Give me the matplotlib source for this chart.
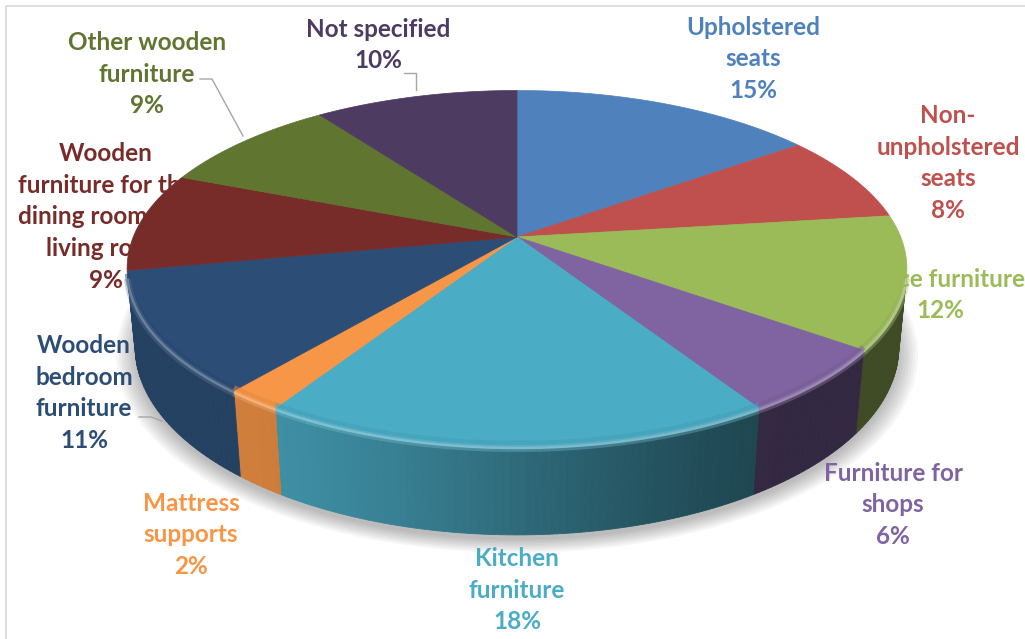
import numpy as np
import matplotlib.pyplot as plt
from matplotlib.patches import Polygon
from matplotlib.colors import to_rgb

# furniture production by type, shares in percent (clockwise from 12 o'clock)
categories = [
    "Upholstered\nseats",
    "Non-\nunpholstered\nseats",
    "Office furniture",
    "Furniture for\nshops",
    "Kitchen\nfurniture",
    "Mattress\nsupports",
    "Wooden\nbedroom\nfurniture",
    "Wooden\nfurniture for the\ndining room and\nliving room",
    "Other wooden\nfurniture",
    "Not specified",
]
shares = [15, 8, 12, 6, 18, 2, 11, 9, 9, 10]
colors = ["#4F81BD", "#C0504D", "#9BBB59", "#8064A2", "#4BACC6",
          "#F79646", "#2C4D75", "#772C2A", "#5F7530", "#4D3B62"]

# label block centres in pixel space
label_pos = [(753, 59), (948, 163), (940, 295), (893, 505), (517, 590),
             (191, 535), (84, 393), (106, 217), (147, 74), (378, 45)]

W, H = 1025, 639
CX, CY = 517, 237
ELEV = np.radians(26.7)
DIST = 5.05
FOC = 1938.0
THICK = 0.23


def project(theta, z=0.0):
    # perspective view of a unit-radius disc, theta clockwise from the back
    x = np.sin(theta)
    y = np.cos(theta)
    depth = DIST + y * np.cos(ELEV) - z * np.sin(ELEV)
    u = FOC * x / depth
    v = FOC * (y * np.sin(ELEV) + z * np.cos(ELEV)) / depth
    return CX + u, CY - v


def shade(c, k):
    r, g, b = to_rgb(c)
    return (r * k, g * k, b * k)


def lighten(c, k):
    r, g, b = to_rgb(c)
    return (r + (1 - r) * k, g + (1 - g) * k, b + (1 - b) * k)


def side_factor(theta):
    s = np.clip((np.degrees(theta) - 140) / 80.0, 0, 1)
    s = s * s * (3 - 2 * s)
    return 0.40 + 0.44 * s


fig = plt.figure(figsize=(W / 100, H / 100), dpi=100)
ax = fig.add_axes([0, 0, 1, 1])
ax.set_xlim(0, W)
ax.set_ylim(H, 0)
ax.axis("off")

# chart area border
ax.plot([6, 6, W + 5], [H + 5, 6, 6], color="#d9d9d9", lw=1.2, zorder=0)

font = dict(family=["Lato", "DejaVu Sans"], fontweight="bold", fontsize=17.5)

# the dining room label sits underneath the pie
dining = 7

bounds = np.cumsum([0] + shares) / 100.0 * 2 * np.pi
edge = np.degrees(np.arccos(-1.0 / (DIST * np.cos(ELEV))))
vis_lo, vis_hi = np.radians(edge), np.radians(360 - edge)

# soft shadow under the pie
ring = np.linspace(0, 2 * np.pi, 361)
for grow in np.linspace(1.0, 1.05, 8):
    bx, by = project(ring, -THICK)
    bx = CX + (bx - CX) * grow
    by = CY + 40 + (by - CY - 40) * grow + 5
    ax.fill(bx, by, color="#000000", alpha=0.035, lw=0, zorder=1)

# side walls
for i, c in enumerate(colors):
    a0, a1 = max(bounds[i], vis_lo), min(bounds[i + 1], vis_hi)
    if a1 <= a0:
        continue
    ts = np.linspace(a0, a1, max(2, int(np.degrees(a1 - a0)) + 1))
    for t0, t1 in zip(ts[:-1], ts[1:]):
        tx0, ty0 = project(t0)
        tx1, ty1 = project(t1)
        bx0, by0 = project(t0, -THICK)
        bx1, by1 = project(t1, -THICK)
        col = shade(c, side_factor((t0 + t1) / 2))
        ax.add_patch(Polygon([(tx0, ty0), (tx1, ty1), (bx1, by1), (bx0, by0)],
                             closed=True, fc=col, ec=col, lw=0.6, zorder=3))

# top faces
for i, c in enumerate(colors):
    ts = np.linspace(bounds[i], bounds[i + 1], max(3, shares[i] * 4))
    px, py = project(ts)
    pts = [(CX, CY)] + list(zip(px, py))
    ax.add_patch(Polygon(pts, closed=True, fc=c, ec=c, lw=0.5, zorder=4))
    # bevel highlight along the front rim
    a0, a1 = max(bounds[i], vis_lo), min(bounds[i + 1], vis_hi)
    if a1 > a0:
        ts = np.linspace(a0, a1, 60)
        rx, ry = project(ts)
        ax.plot(rx, ry - 3, color=shade(c, 0.92), lw=4, alpha=0.5,
                solid_capstyle="butt", zorder=5)
        ax.plot(rx, ry + 2, color=lighten(c, 0.25), lw=5, alpha=0.35,
                solid_capstyle="butt", zorder=5)
        ax.plot(rx, ry + 1.5, color=lighten(c, 0.35), lw=1.8, alpha=0.8,
                solid_capstyle="butt", zorder=5)

# data labels
for i, (name, share) in enumerate(zip(categories, shares)):
    x, y = label_pos[i]
    ax.text(x, y, f"{name}\n{share}%", color=colors[i], ha="center", va="center",
            linespacing=1.45, zorder=2 if i == dining else 6, **font)

# leader lines
lead = "#a6a6a6"
ax.plot([404, 416, 416], [73, 73, 90], color=lead, lw=1, zorder=6)
ax.plot([200, 212, 243], [79, 79, 136], color=lead, lw=1, zorder=6)
ax.plot([139, 151, 162], [417, 417, 421], color=lead, lw=1, zorder=6)

fig.savefig("out.png", dpi=100)
